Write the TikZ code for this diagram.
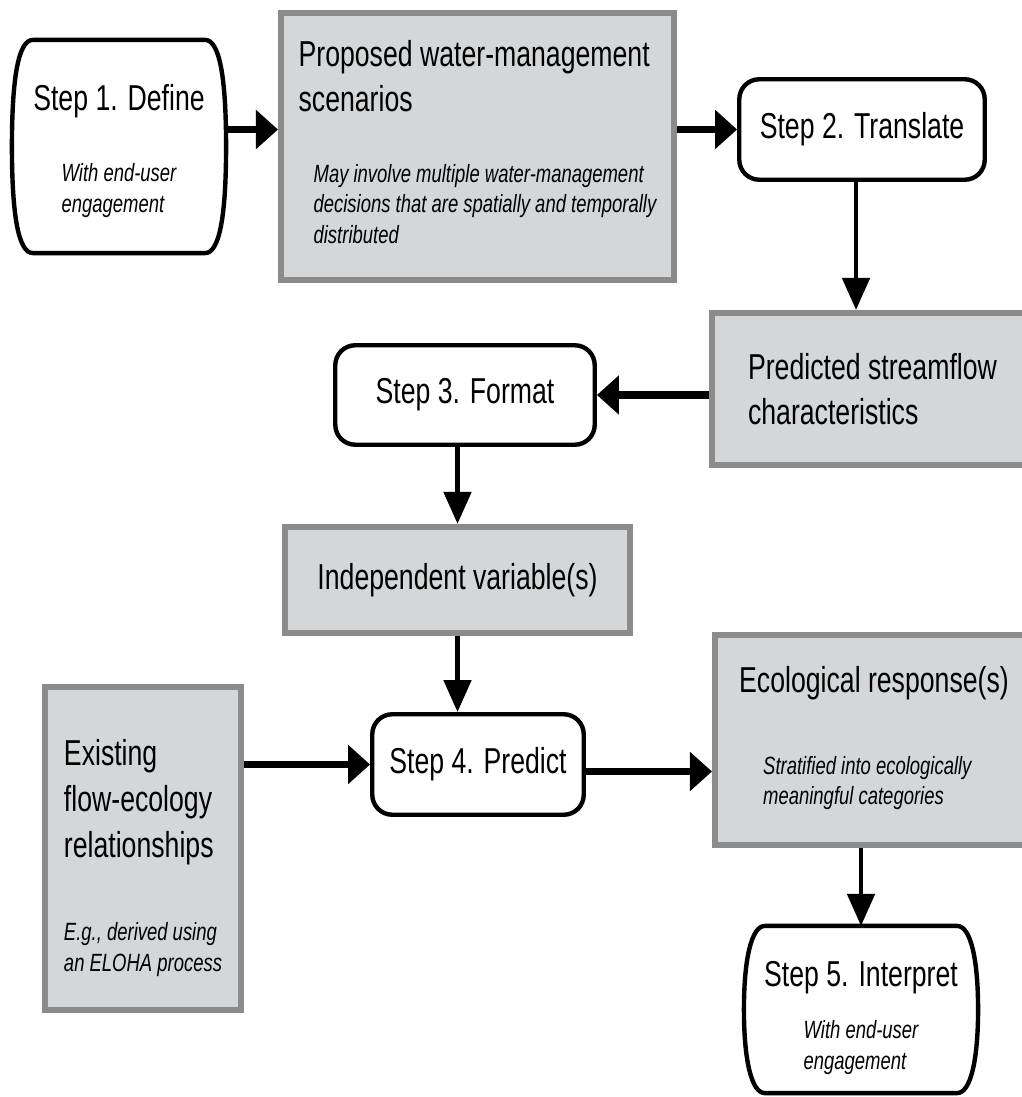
\documentclass[tikz,border=0pt]{standalone}
\usepackage{fontspec}
\setmainfont{Liberation Sans}[FakeStretch=0.74]
\usetikzlibrary{arrows.meta}
\definecolor{boxfill}{RGB}{212,214,216}
\definecolor{boxline}{RGB}{139,139,139}
\newcommand{\titlefont}{\fontsize{20.5}{26}\selectfont}
\newcommand{\subfont}{\fontsize{14.2}{17.5}\selectfont\itshape}
\newcommand{\subtxt}[2][0pt]{{\subfont\begin{tabular}[t]{@{\hspace{#1}}l@{}}#2\end{tabular}}}
\newcommand{\capsuleoutline}[1]{\draw[line width=2.5pt]
   ([xshift=0.42cm]#1.north west) -- ([xshift=-0.42cm]#1.north east)
   .. controls ([xshift=-0.14cm]#1.north east) and ([yshift=-0.7cm]#1.north east) .. (#1.east)
   .. controls ([yshift=0.7cm]#1.south east) and ([xshift=-0.14cm]#1.south east)
   .. ([xshift=-0.42cm]#1.south east) -- ([xshift=0.42cm]#1.south west)
   .. controls ([xshift=0.14cm]#1.south west) and ([yshift=0.7cm]#1.south west) .. (#1.west)
   .. controls ([yshift=-0.7cm]#1.north west) and ([xshift=0.14cm]#1.north west) .. cycle;}

\begin{document}
\begin{tikzpicture}[
   x=0.02cm, y=-0.02cm,
   stepnode/.style={draw, line width=2.5pt, fill=white, rounded corners=0.4cm,
      align=center, font=\titlefont},
   capsulenode/.style={align=center, font=\titlefont},
   databox/.style={draw=boxline, line width=3.5pt, fill=boxfill, align=left,
      font=\titlefont},
   harrow/.style={-{Triangle[length=0.44cm, width=0.76cm]}, line width=4.3pt},
   varrow/.style={-{Triangle[length=0.64cm, width=0.54cm]}, line width=2.8pt}
]
\useasboundingbox (0,0) rectangle (1021,1097);
\node[capsulenode, minimum width=4.27cm, minimum height=4.25cm] (define) at (119,146.5)
   {\rule{0pt}{22pt}Step 1. Define\\[14.4pt]\subtxt{With end-user\\engagement}};
\capsuleoutline{define}
\node[databox, minimum width=7.86cm, minimum height=5.34cm] (scenarios) at (477.5,146.5)
   {Proposed water-management\\scenarios\\[14pt]
    \subtxt[0.3cm]{May involve multiple water-management\\decisions that are spatially and temporally\\distributed}};
\node[stepnode, minimum width=4.91cm, minimum height=2.01cm] (translate) at (862,129.5)
   {Step 2. Translate};
\node[databox, minimum width=6.42cm, minimum height=3.04cm] (predicted) at (872.5,389)
   {Predicted streamflow\\characteristics};
\node[stepnode, minimum width=5.19cm, minimum height=1.99cm] (format) at (465,395)
   {Step 3. Format};
\node[databox, align=center, minimum width=6.9cm, minimum height=2.12cm] (independent)
   at (457.5,580) {Independent variable(s)};
\node[databox, minimum width=3.92cm, minimum height=6.46cm] (existing) at (143,848.5)
   {\rule{0pt}{28pt}Existing\\flow-ecology\\relationships\\[21.2pt]
    \subtxt{E.g., derived using\\an ELOHA process}};
\node[stepnode, minimum width=4.23cm, minimum height=2.01cm] (predict) at (478,764.5)
   {Step 4. Predict};
\node[databox, minimum width=6.36cm, minimum height=4.2cm] (ecological) at (874,740)
   {Ecological response(s)\\[20.7pt]
    \subtxt[0.48cm]{Stratified into ecologically\\meaningful categories}};
\node[capsulenode, minimum width=4.67cm, minimum height=3.33cm] (interpret) at (861,1009.5)
   {\rule{0pt}{26pt}Step 5. Interpret\\[3.6pt]\subtxt{With end-user\\engagement}};
\capsuleoutline{interpret}

\draw[harrow] (define.east |- translate.west) -- (scenarios.west |- translate.west);
\draw[harrow] (scenarios.east |- translate.west) -- (translate.west);
\draw[varrow] ([xshift=-0.12cm]translate.south) -- ([xshift=-0.12cm]translate.south |- predicted.north);
\draw[harrow] (predicted.west |- format.east) -- (format.east);
\draw[varrow] (format.south -| independent.north) -- (independent.north);
\draw[varrow] (independent.south) -- (independent.south |- predict.north);
\draw[harrow] (existing.east |- predict.west) -- (predict.west);
\draw[harrow] ([yshift=-0.14cm]predict.east) -- ([yshift=-0.14cm]predict.east -| ecological.west);
\draw[varrow] (interpret.north |- ecological.south) -- (interpret.north);
\end{tikzpicture}
\end{document}
